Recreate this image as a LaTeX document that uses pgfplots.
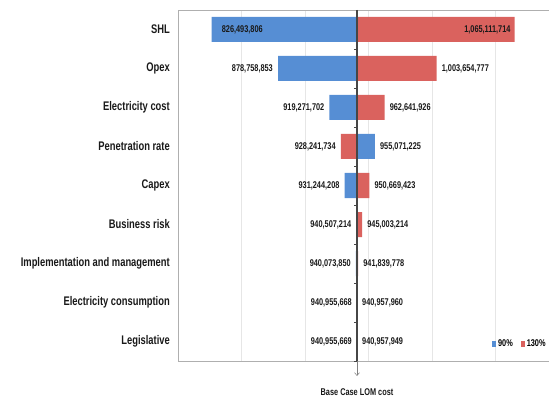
\documentclass[border=0pt]{standalone}
\usepackage{fontspec}
\setmainfont{Liberation Sans}[FakeStretch=0.75]
\usepackage{pgfplots}
\usepackage{pgfplotstable}
\pgfplotsset{compat=1.18}
\usetikzlibrary{arrows.meta}

\definecolor{barblue}{RGB}{86,142,212}
\definecolor{barred}{RGB}{218,98,94}
\definecolor{framegray}{RGB}{175,175,175}
\definecolor{gridgray}{RGB}{230,230,230}
\definecolor{axisdark}{RGB}{70,70,70}

% LOM cost (million) for each driver at 90% and at 130% of its base value.
% Rows: 0 SHL, 1 Opex, 2 Electricity cost, 3 Penetration rate, 4 Capex,
% 5 Business risk, 6 Implementation and management,
% 7 Electricity consumption, 8 Legislative.
% side: -1 label left of bar end, 1 right of it,
%       -2 inside at the left end, 2 inside at the right end.
\pgfplotstableread{
row v lab side
0 826.493806 {826,493,806} -2
1 878.758853 {878,758,853} -1
2 919.271702 {919,271,702} -1
3 955.071225 {955,071,225} 1
4 931.244208 {931,244,208} -1
5 940.507214 {940,507,214} -1
6 940.073850 {940,073,850} -1
7 940.955668 {940,955,668} -1
8 940.955669 {940,955,669} -1
}\lowninety

\pgfplotstableread{
row v lab side
0 1065.111714 {1,065,111,714} 2
1 1003.654777 {1,003,654,777} 1
2 962.641926 {962,641,926} 1
3 928.241734 {928,241,734} -1
4 950.669423 {950,669,423} 1
5 945.003214 {945,003,214} 1
6 941.839778 {941,839,778} 1
7 940.957960 {940,957,960} 1
8 940.957949 {940,957,949} 1
}\highonethirty

% base case LOM cost (million); bars grow from it
\def\basecase{940.9568}

\newcommand\catfont{\fontsize{12.5}{14}\selectfont\bfseries}
\newcommand\valfont{\fontsize{9.8}{11}\selectfont\bfseries}

\pgfplotsset{
  tbar/.style={xbar, bar width=25pt, bar shift=0pt, draw=none, fill=#1},
  vlabels/.style n args={3}{forget plot, draw=none, mark=none,
    nodes near coords, point meta=explicit symbolic,
    restrict expr to domain={\thisrow{side}}{#1:#1},
    every node near coord/.style={font=\valfont,
      text=black!90, inner sep=0pt, anchor=#2, xshift=#3}},
}

\begin{document}
\begin{tikzpicture}
\path[use as bounding box] (0,0) rectangle (549pt,401pt);
\begin{axis}[
  at={(178pt,40pt)}, anchor=south west,
  scale only axis, width=381pt, height=351pt,
  xmin=-140.9568, xmax=159.0432,
  ymin=-0.5, ymax=8.5, y dir=reverse,
  clip=false,
  axis line style={framegray, line width=0.8pt},
  xtick={-90.9568,-40.9568,9.0432,59.0432,109.0432},
  xticklabels={},
  xmajorgrids, major grid style={gridgray, line width=0.6pt},
  major x tick style={draw=none},
  ytick={0,...,8},
  yticklabels={SHL,Opex,Electricity cost,Penetration rate,Capex,Business risk,Implementation and management,Electricity consumption,Legislative},
  major y tick style={draw=none},
  yticklabel style={font=\catfont, text=black!90, inner sep=0pt, xshift=-8pt, anchor=east},
  legend style={at={(0.816,0.048)}, anchor=west, draw=none, fill=none,
    legend columns=2, font=\valfont,
    /tikz/every even column/.append style={column sep=6pt}},
  legend image code/.code={\fill[#1] (0pt,-3pt) rectangle (4pt,3pt);},
]
\addplot[tbar=barblue]
  table[x expr=\thisrow{v}-\basecase, y=row] {\lowninety};
\addlegendentry{90\%}
\addplot[tbar=barred]
  table[x expr=\thisrow{v}-\basecase, y=row] {\highonethirty};
\addlegendentry{130\%}

% value labels at the bar ends
\addplot[vlabels={-1}{east}{-5pt}] table[x expr=\thisrow{v}-\basecase, y=row, meta=lab] {\lowninety};
\addplot[vlabels={1}{west}{5pt}]   table[x expr=\thisrow{v}-\basecase, y=row, meta=lab] {\lowninety};
\addplot[vlabels={-2}{west}{10pt}] table[x expr=\thisrow{v}-\basecase, y=row, meta=lab] {\lowninety};
\addplot[vlabels={-1}{east}{-5pt}] table[x expr=\thisrow{v}-\basecase, y=row, meta=lab] {\highonethirty};
\addplot[vlabels={1}{west}{5pt}]   table[x expr=\thisrow{v}-\basecase, y=row, meta=lab] {\highonethirty};
\addplot[vlabels={2}{east}{-4pt}]  table[x expr=\thisrow{v}-\basecase, y=row, meta=lab] {\highonethirty};

% base case axis with its category ticks
\draw[axisdark, line width=1.1pt] (axis cs:0,-0.5) -- (axis cs:0,8.5);
\pgfplotsinvokeforeach{0.5,1.5,2.5,3.5,4.5,5.5,6.5,7.5,8.5}{
  \draw[axisdark, line width=0.8pt] (axis cs:0,#1) -- ([xshift=-3.5pt]axis cs:0,#1);
}
\draw[gray, line width=0.5pt, -{Straight Barb[length=3pt,width=5pt]}]
  (axis cs:0,8.5) -- ([yshift=-15pt]axis cs:0,8.5);
\node[font=\valfont, text=black!90] at ([yshift=-31pt]axis cs:0,8.5) {Base Case LOM cost};
\end{axis}
\end{tikzpicture}
\end{document}
